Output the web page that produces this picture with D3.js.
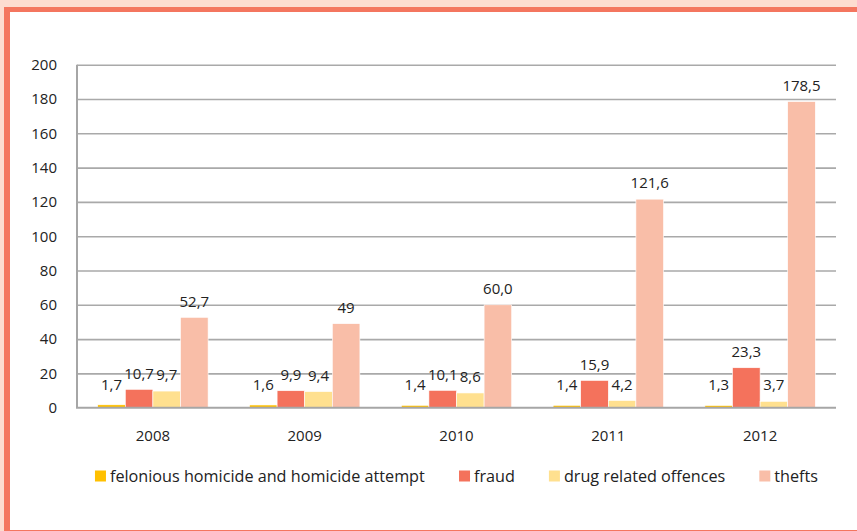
<!DOCTYPE html>
<html>
<head>
<meta charset="utf-8">
<script src="https://cdn.jsdelivr.net/npm/d3@7"></script>
<style>
  html, body { margin: 0; padding: 0; background: #FDDCD0; }
  svg { display: block; }
</style>
</head>
<body>
<svg id="chart" width="857" height="531"></svg>
<script>
// ---- data ----
const years = ["2008", "2009", "2010", "2011", "2012"];
const seriesNames = ["felonious homicide and homicide attempt", "fraud", "drug related offences", "thefts"];
const homicide = [1.7, 1.6, 1.4, 1.4, 1.3];
const fraud = [10.7, 9.9, 10.1, 15.9, 23.3];
const drugs = [9.7, 9.4, 8.6, 4.2, 3.7];
const thefts = [52.7, 49, 60.0, 121.6, 178.5];
const theftLabels = ["52,7", "49", "60,0", "121,6", "178,5"];
const yTicks = [0, 20, 40, 60, 80, 100, 120, 140, 160, 180, 200];
const colors = ["#FFC000", "#F4725C", "#FFE08F", "#F9BEA8"];

const seriesValues = [homicide, fraud, drugs, thefts];
const fmt = v => v.toFixed(1).replace(".", ",");
const labelText = (si, i) => si === 3 ? theftLabels[i] : fmt(seriesValues[si][i]);

const svg = d3.select("#chart");
const FONT = "'Open Sans', 'Noto Sans', sans-serif";
const TXT = "#222";

// frame
svg.append("rect").attr("x", 4).attr("y", 7).attr("width", 900).attr("height", 560).attr("fill", "#F4765F");
svg.append("rect").attr("x", 10).attr("y", 12).attr("width", 900).attr("height", 518).attr("fill", "#fff");

const pLeft = 77, pRight = 836, pTop = 64.7, pBottom = 407.7;

const x = d3.scaleBand().domain(years).range([pLeft, pRight]).paddingInner(0).paddingOuter(0);
const groupW = x.bandwidth() * 4 / 5.5;
const x1 = d3.scaleBand().domain(d3.range(4)).range([0, groupW]);
const y = d3.scaleLinear().domain([0, 200]).range([pBottom, pTop]);

// gridlines
const grid = svg.append("g").attr("transform", `translate(${pLeft},0)`)
  .call(d3.axisLeft(y).tickValues(yTicks.filter(t => t > 0)).tickSize(-(pRight - pLeft)).tickFormat(""));
grid.select(".domain").remove();
grid.selectAll("line").attr("stroke", "#A9A9A9").attr("stroke-width", 1.6);

// y axis labels
const yAx = svg.append("g").attr("transform", `translate(${pLeft},0)`)
  .call(d3.axisLeft(y).tickValues(yTicks).tickSize(0).tickPadding(20).tickFormat(d3.format("d")));
yAx.select(".domain").remove();
yAx.selectAll("text").attr("font-family", FONT).attr("font-size", 15).attr("fill", TXT);

// bars
const groups = svg.append("g").selectAll("g").data(years).join("g")
  .attr("transform", d => `translate(${x(d) + (x.bandwidth() - groupW) / 2},0)`);

groups.selectAll("rect")
  .data((d, i) => seriesValues.map((s, si) => ({ si, i, v: s[i] })))
  .join("rect")
  .attr("x", d => x1(d.si))
  .attr("width", x1.bandwidth())
  .attr("y", d => y(d.v))
  .attr("height", d => pBottom - y(d.v))
  .attr("fill", d => colors[d.si])
  .attr("stroke", "#fff").attr("stroke-width", 0.6);

// data labels
groups.selectAll("text.lbl")
  .data((d, i) => seriesValues.map((s, si) => ({ si, i, v: s[i] })))
  .join("text").attr("class", "lbl")
  .attr("x", d => x1(d.si) + x1.bandwidth() / 2)
  .attr("y", d => Math.min(y(d.v) - 16, 385))
  .attr("dy", "0.35em")
  .attr("text-anchor", "middle")
  .attr("font-family", FONT).attr("font-size", 15).attr("fill", TXT)
  .text(d => labelText(d.si, d.i));

// axes lines
svg.append("line").attr("x1", pLeft).attr("x2", pLeft).attr("y1", pTop).attr("y2", pBottom)
  .attr("stroke", "#A6A6A6").attr("stroke-width", 2);
svg.append("line").attr("x1", pLeft - 1).attr("x2", pRight).attr("y1", pBottom).attr("y2", pBottom)
  .attr("stroke", "#A6A6A6").attr("stroke-width", 2);

// x labels
const xAx = svg.append("g").attr("transform", `translate(0,${pBottom})`)
  .call(d3.axisBottom(x).tickSize(0).tickPadding(23));
xAx.select(".domain").remove();
xAx.selectAll("text").attr("font-family", FONT).attr("font-size", 15).attr("fill", TXT);

// legend
const legend = svg.append("g");
const items = legend.selectAll("g").data(seriesNames).join("g");
items.append("rect").attr("width", 11).attr("height", 11).attr("y", -5.5)
  .attr("fill", (d, i) => colors[i]);
items.append("text").attr("x", 15).attr("dy", "0.35em")
  .attr("font-family", FONT).attr("font-size", 16.2).attr("fill", TXT).text(d => d);
const widths = [];
items.each(function () { widths.push(this.getBBox().width); });
const gap = 34;
const total = d3.sum(widths) + gap * (widths.length - 1);
let cx = (pLeft + pRight) / 2 - total / 2;
items.attr("transform", (d, i) => { const t = `translate(${cx},476)`; cx += widths[i] + gap; return t; });
</script>
</body>
</html>
